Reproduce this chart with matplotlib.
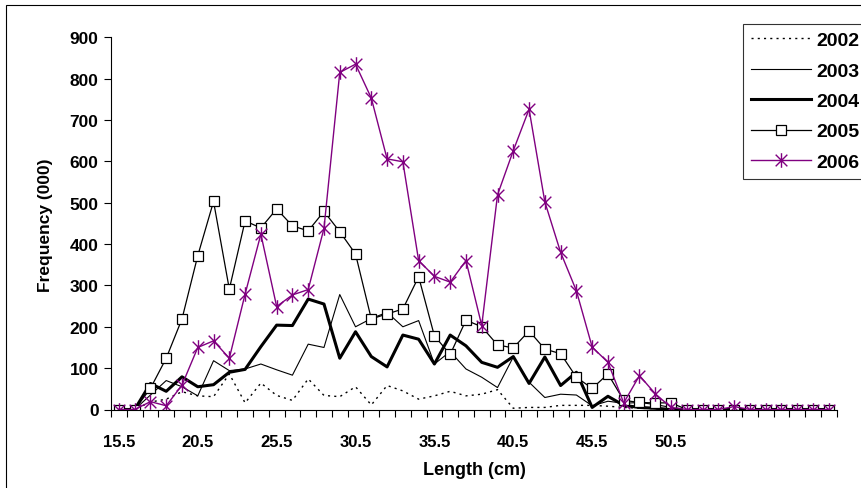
import numpy as np
import matplotlib
matplotlib.use("Agg")
import matplotlib.pyplot as plt
from matplotlib.path import Path
from matplotlib.patches import Rectangle

plt.rcParams['font.family'] = ['Liberation Sans', 'DejaVu Sans']

lengths = np.arange(15.5, 61.0, 1.0)          # 46 length classes (cm)
tick_labels = ["15.5", "20.5", "25.5", "30.5", "35.5", "40.5", "45.5", "50.5"]
tick_positions = [15.5, 20.5, 25.5, 30.5, 35.5, 40.5, 45.5, 50.5]

y2002 = [0, 0, 18, 25, 43, 33, 31, 86, 16, 64, 34, 22, 74, 34, 31, 55, 11, 58,
         45, 25, 33, 44, 33, 37, 48, 3, 5, 5, 10, 10, 10, 8, 5, 3, 2, 1,
         0, 0, 0, 0, 0, 0, 0, 0, 0, 0]
y2003 = [0, 0, 35, 70, 55, 33, 118, 94, 98, 110, 96, 83, 158, 150, 278, 200, 220, 235,
         200, 215, 110, 140, 98, 78, 53, 127, 66, 29, 37, 35, 9, 20, 15, 17, 12, 5,
         0, 0, 0, 0, 0, 0, 0, 0, 0, 0]
y2004 = [0, 0, 63, 44, 79, 55, 60, 90, 97, 152, 204, 203, 267, 255, 124, 188, 128, 103,
         180, 170, 110, 180, 154, 114, 102, 128, 63, 127, 58, 90, 5, 32, 10, 5, 3, 0,
         0, 0, 0, 0, 0, 0, 0, 0, 0, 0]
y2005 = [0, 0, 51, 124, 219, 372, 503, 291, 456, 439, 485, 444, 432, 479, 430, 376, 219, 231,
         243, 321, 178, 133, 216, 200, 156, 149, 190, 146, 135, 78, 51, 86, 22, 17, 16, 16,
         0, 0, 0, 0, 0, 0, 0, 0, 0, 0]
y2006 = [0, 0, 19, 9, 59, 150, 166, 124, 279, 424, 249, 277, 290, 438, 815, 835, 753, 606,
         599, 360, 322, 308, 360, 203, 519, 626, 726, 502, 380, 287, 151, 114, 16, 82, 38, 5,
         0, 0, 0, 7, 0, 0, 0, 0, 0, 0]

W, H = 861, 489
fig = plt.figure(figsize=(W / 100, H / 100), dpi=100)
fig.patch.set_facecolor('white')

# chart-area frame (extends past right/bottom edges as in the reference)
fig.patches.append(Rectangle((6 / W, -0.05), 1.2, 1 - 6 / H + 0.05,
                             transform=fig.transFigure, fill=False,
                             edgecolor='black', linewidth=0.8))

ax_l, ax_r, ax_b, ax_t = 111, 836.7, 410.5, 38.3
ax = fig.add_axes([ax_l / W, 1 - ax_b / H, (ax_r - ax_l) / W, (ax_b - ax_t) / H])

purple = '#800080'
star = Path([(0, -1), (0, 1), (-0.8, -0.8), (0.8, 0.8), (-0.8, 0.8), (0.8, -0.8)],
            [Path.MOVETO, Path.LINETO, Path.MOVETO, Path.LINETO, Path.MOVETO, Path.LINETO])

ax.plot(lengths, y2002, color='black', lw=1.0, linestyle=(0, (1.5, 3)), label='2002')
ax.plot(lengths, y2003, color='black', lw=0.8, label='2003')
ax.plot(lengths, y2004, color='black', lw=2.2, label='2004')
ax.plot(lengths, y2005, color='black', lw=0.9, marker='s', markersize=7.5,
        markerfacecolor='white', markeredgecolor='black', markeredgewidth=0.9, label='2005')
ax.plot(lengths, y2006, color=purple, lw=1.0, marker=star, markersize=10.5,
        markeredgecolor=purple, markeredgewidth=1.0, label='2006')

ax.set_xlim(15.0, 61.0)
ax.set_ylim(0, 900)
ax.set_yticks(np.arange(0, 901, 100))
ax.set_xticks(tick_positions)
ax.set_xticklabels(tick_labels)
ax.set_xticks(np.arange(15.0, 61.5, 1.0), minor=True)
ax.tick_params(axis='x', which='major', length=0, pad=18, labelsize=12)
ax.tick_params(axis='x', which='minor', length=5, width=0.8, direction='out')
ax.tick_params(axis='y', which='major', length=5, width=0.8, direction='out', pad=4, labelsize=12.5)
for lab in ax.get_xticklabels() + ax.get_yticklabels():
    lab.set_fontweight('bold')
for s in ['top', 'right']:
    ax.spines[s].set_visible(False)
for s in ['left', 'bottom']:
    ax.spines[s].set_linewidth(0.8)
ax.set_facecolor('white')

fig.text(474 / W, 1 - 471 / H, 'Length (cm)', ha='center', va='center',
         fontsize=13, fontweight='bold')
fig.text(46 / W, 1 - 225 / H, 'Frequency (000)', ha='center', va='center',
         rotation=90, fontsize=12.5, fontweight='bold')

leg = fig.legend(loc='upper left', bbox_to_anchor=(743 / W, 1 - 24.7 / H),
                 bbox_transform=fig.transFigure, frameon=True, fancybox=False,
                 borderaxespad=0, borderpad=0.4, handlelength=3.1, handletextpad=0.25,
                 labelspacing=0.66, prop={'weight': 'bold', 'size': 14})
leg.get_frame().set_edgecolor('black')
leg.get_frame().set_linewidth(0.8)

fig.savefig('out.png', dpi=100)
